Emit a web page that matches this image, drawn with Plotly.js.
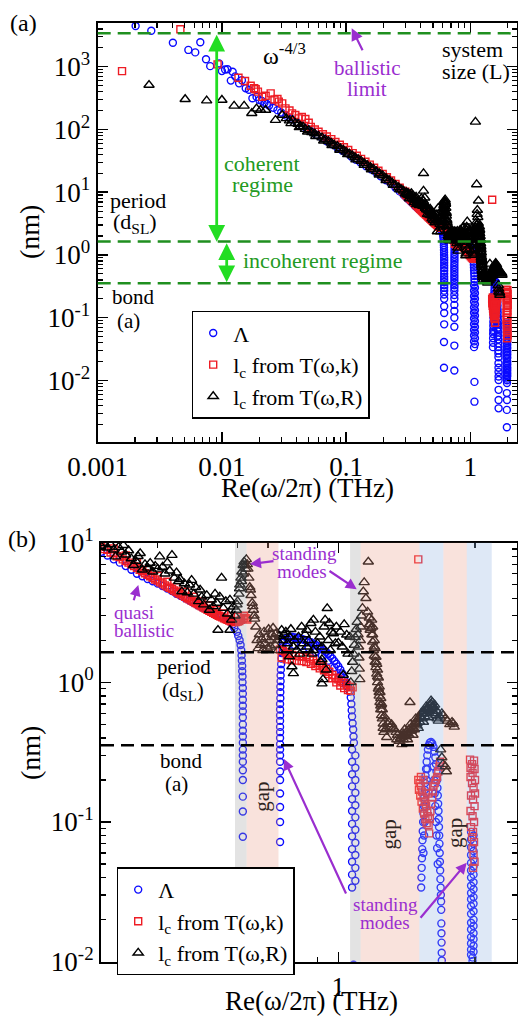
<!DOCTYPE html>
<html><head><meta charset="utf-8">
<script src="https://cdn.plot.ly/plotly-3.0.1.min.js"></script>
<style>html,body{margin:0;padding:0;background:#fff}#plot{width:518px;height:1017px}</style>
</head><body><div id="plot"></div>
<script>
// ---------------- DATA (frequency THz, length nm) ----------------
const lambdaLow = [[0.00202,4450],[0.0027,3740],[0.00403,2410],[0.00537,1850],[0.0061,1690],[0.0067,2450],[0.00745,1310],[0.00805,1020],[0.0095,1130],[0.0100,850],[0.0106,900],[0.0111,910],[0.0118,600],[0.0122,830],[0.0128,700],[0.01375,543],[0.0145,610],[0.01555,453],[0.0165,430],[0.0176,314]];
const lambdaBand = [[0.019,330],[0.020,295],[0.021,285],[0.022,265],[0.023,255],[0.024,240],[0.026,222],[0.028,203],[0.030,186],[0.033,166],[0.036,148],[0.040,131],[0.044,116],[0.048,104],[0.053,92],[0.058,82],[0.064,73],[0.070,65],[0.077,58],[0.085,51],[0.093,46],[0.10,42],[0.11,37],[0.12,33],[0.13,30],[0.145,26],[0.16,23],[0.175,20.5],[0.19,18],[0.21,15.5],[0.23,13.5],[0.25,11.8],[0.27,10.3],[0.29,9.1],[0.30,8.6],[0.31,8.1],[0.32,7.6],[0.33,7.2],[0.34,6.8],[0.35,6.4],[0.36,6.0],[0.37,5.75],[0.38,5.5],[0.39,5.3],[0.40,5.1],[0.41,4.9],[0.42,4.7],[0.43,4.5],[0.44,4.3],[0.45,4.15],[0.46,4.0],[0.47,3.85],[0.48,3.7],[0.49,3.57],[0.50,3.45],[0.51,3.35],[0.52,3.25],[0.53,3.15],[0.54,3.05],[0.55,2.97],[0.56,2.9],[0.57,2.8],[0.575,2.75],[0.58,2.68],[0.585,2.6],[0.59,2.45]];
const lambdaDrop1 = [[0.598,2.3],[0.602,2.15],[0.606,2.0],[0.609,1.85],[0.611,1.7],[0.612,1.56],[0.613,1.43],[0.614,1.31],[0.614,1.2],[0.615,1.1],[0.615,1.0],[0.616,0.91],[0.616,0.83],[0.616,0.75],[0.616,0.68],[0.616,0.62],[0.616,0.56],[0.616,0.5],[0.616,0.45],[0.616,0.41],[0.616,0.37],[0.616,0.33],[0.616,0.3],[0.616,0.27],[0.616,0.235],[0.616,0.2],[0.616,0.152],[0.616,0.119],[0.616,0.0785],[0.614,0.041],[0.614,0.016]];
const lambdaRise2 = [[0.744,0.0144],[0.744,0.036],[0.744,0.072],[0.744,0.1],[0.744,0.128],[0.744,0.16],[0.744,0.2],[0.744,0.23],[0.744,0.27],[0.744,0.3],[0.744,0.33],[0.744,0.36],[0.744,0.4],[0.744,0.44],[0.744,0.48],[0.744,0.53],[0.744,0.58],[0.744,0.64],[0.744,0.7],[0.745,0.77],[0.745,0.85],[0.745,0.93],[0.746,1.02],[0.746,1.12],[0.747,1.23],[0.748,1.35],[0.749,1.48],[0.75,1.62],[0.752,1.78],[0.755,1.92]];
const lambdaArc2 = [[0.76,2.02],[0.77,2.08],[0.78,2.1],[0.79,2.12],[0.80,2.1],[0.81,2.09],[0.82,2.07],[0.83,2.05],[0.84,2.02],[0.85,2.0],[0.86,1.97],[0.87,1.94],[0.88,1.9],[0.89,1.86],[0.90,1.82],[0.91,1.78],[0.92,1.74],[0.93,1.7],[0.94,1.65],[0.95,1.6],[0.96,1.54],[0.97,1.48],[0.98,1.42],[0.99,1.36],[1.00,1.3],[1.01,1.23],[1.02,1.16],[1.03,1.08],[1.04,1.0],[1.05,0.93],[0.77,1.8],[0.80,1.85],[0.83,1.82],[0.86,1.76],[0.89,1.65],[0.92,1.55],[0.95,1.43],[0.98,1.28],[1.01,1.12],[1.04,0.95]];
const lambdaDrop2 = [[1.06,0.86],[1.065,0.78],[1.068,0.7],[1.07,0.63],[1.072,0.57],[1.075,0.51],[1.078,0.46],[1.08,0.41],[1.082,0.37],[1.072,0.33],[1.09,0.3],[1.072,0.27],[1.09,0.245],[1.072,0.22],[1.09,0.2],[1.072,0.18],[1.09,0.162],[1.072,0.146],[1.09,0.132],[1.072,0.12],[1.09,0.108],[1.072,0.097],[1.09,0.088],[1.072,0.079],[1.09,0.071],[1.072,0.064],[1.09,0.058],[1.072,0.052],[1.09,0.047],[1.072,0.042],[1.09,0.038],[1.072,0.034],[1.08,0.0095],[1.08,0.0046]];
const lambdaArc3 = [[1.522,0.034],[1.524,0.04],[1.526,0.047],[1.528,0.055],[1.53,0.064],[1.532,0.074],[1.534,0.086],[1.537,0.1],[1.54,0.115],[1.543,0.13],[1.546,0.15],[1.55,0.17],[1.553,0.19],[1.556,0.215],[1.56,0.24],[1.565,0.27],[1.57,0.3],[1.575,0.33],[1.582,0.355],[1.59,0.37],[1.6,0.375],[1.61,0.365],[1.62,0.345],[1.628,0.32],[1.635,0.29],[1.64,0.26],[1.645,0.23],[1.65,0.2],[1.653,0.175],[1.656,0.155],[1.659,0.135],[1.662,0.12],[1.664,0.105],[1.666,0.092],[1.668,0.08],[1.67,0.07],[1.672,0.06],[1.674,0.052],[1.676,0.045],[1.678,0.039],[1.68,0.034],[1.682,0.03],[1.684,0.027],[1.685,0.0235],[1.686,0.0188],[1.687,0.016],[1.688,0.0137],[1.689,0.0116],[1.69,0.0102],[1.69,0.0071],[1.69,0.0049],[1.69,0.0036],[1.54,0.06],[1.545,0.08],[1.55,0.1],[1.555,0.13],[1.56,0.16],[1.565,0.2],[1.57,0.24],[1.62,0.25],[1.625,0.2],[1.63,0.16],[1.635,0.13],[1.64,0.1],[1.645,0.08],[1.65,0.065],[1.655,0.05]];
const lambdaDrop3 = [[1.96,0.085],[1.985,0.08],[1.96,0.075],[1.985,0.07],[1.96,0.066],[1.985,0.062],[1.96,0.058],[1.985,0.054],[1.96,0.051],[1.985,0.048],[1.96,0.045],[1.985,0.042],[1.96,0.04],[1.985,0.037],[1.96,0.035],[1.985,0.033],[1.96,0.031],[1.985,0.029],[1.96,0.028],[1.985,0.026],[1.96,0.025],[1.985,0.023],[1.96,0.022],[1.985,0.02],[1.96,0.019],[1.985,0.018],[1.96,0.017],[1.985,0.016],[1.96,0.015],[1.985,0.0145],[1.96,0.0135],[1.985,0.013],[1.96,0.0122],[1.985,0.0118],[1.96,0.0112],[1.975,0.0107],[1.975,0.0101],[1.975,0.0091],[1.97,0.0063],[1.975,0.0049],[1.97,0.0034],[1.97,0.0018]];

const lcKLow = [[0.00157,850],[0.00463,3940],[0.00923,1090],[0.0136,668],[0.01535,592],[0.01705,498],[0.0182,453],[0.0187,436],[0.0195,400],[0.0211,331],[0.0225,345],[0.0247,376],[0.0265,300],[0.028,305],[0.0287,277],[0.0306,260],[0.0325,217],[0.035,200],[0.0367,180],[0.039,170],[0.0415,150],[0.044,158],[0.047,147],[0.05,128]];
const lcKBand = [[0.052,110],[0.056,100],[0.06,92],[0.065,84],[0.07,77],[0.076,70],[0.082,63],[0.089,57],[0.096,52],[0.104,47],[0.113,42],[0.122,38],[0.132,34],[0.143,30.5],[0.155,27.5],[0.168,24.5],[0.182,22],[0.197,19.5],[0.213,17.3],[0.23,15.4],[0.25,13.5],[0.27,11.8],[0.285,10.6],[0.295,9.9],[0.30,9.4],[0.305,9.0],[0.31,8.9],[0.315,8.5],[0.32,8.4],[0.325,8.0],[0.33,7.9],[0.335,7.6],[0.34,7.4],[0.345,7.2],[0.35,7.0],[0.355,6.8],[0.36,6.6],[0.365,6.4],[0.37,6.25],[0.375,6.05],[0.38,5.9],[0.385,5.75],[0.39,5.6],[0.395,5.45],[0.40,5.35],[0.405,5.2],[0.41,5.1],[0.415,4.95],[0.42,4.85],[0.425,4.75],[0.43,4.65],[0.435,4.55],[0.44,4.45],[0.445,4.35],[0.45,4.27],[0.455,4.18],[0.46,4.1],[0.465,4.0],[0.47,3.93],[0.475,3.85],[0.48,3.78],[0.485,3.7],[0.49,3.63],[0.495,3.56],[0.50,3.5],[0.505,3.43],[0.51,3.37],[0.515,3.31],[0.52,3.26],[0.525,3.2],[0.53,3.15],[0.535,3.1],[0.54,3.05],[0.545,3.0],[0.55,2.96],[0.555,2.92],[0.56,2.88],[0.565,2.84],[0.57,2.8],[0.575,2.77],[0.58,2.74],[0.585,2.72],[0.59,2.7],[0.595,2.7],[0.60,2.72],[0.605,2.75],[0.61,2.8],[0.615,2.85],[0.62,2.9],[0.625,2.88],[0.63,2.82],[0.30,10.2],[0.32,9.1],[0.34,8.1],[0.36,7.2],[0.38,6.4],[0.40,5.8],[0.42,5.25],[0.44,4.8],[0.46,4.45],[0.48,4.1],[0.50,3.8],[0.52,3.55],[0.54,3.3],[0.56,3.12],[0.58,2.97],[0.60,2.95],[0.62,3.0]];
const lcKArc2 = [[0.744,1.72],[0.755,1.68],[0.765,1.64],[0.775,1.6],[0.79,1.57],[0.805,1.55],[0.82,1.54],[0.835,1.53],[0.85,1.52],[0.865,1.48],[0.88,1.43],[0.895,1.38],[0.91,1.34],[0.925,1.3],[0.94,1.25],[0.955,1.19],[0.97,1.13],[0.985,1.08],[1.0,1.05],[1.015,1.02],[1.03,0.99],[1.045,0.96],[1.06,0.93],[1.075,0.92],[0.75,1.5],[0.77,1.46],[0.79,1.44],[0.81,1.43],[0.83,1.42],[0.85,1.4],[0.87,1.36],[0.89,1.31],[0.91,1.26],[0.93,1.22],[0.95,1.15],[0.97,1.07],[0.99,1.0],[1.01,0.95],[1.03,0.91],[1.05,0.88],[1.065,0.87]];
const lcKArc3 = [[1.50,0.20],[1.505,0.17],[1.51,0.19],[1.515,0.155],[1.52,0.18],[1.525,0.14],[1.53,0.165],[1.535,0.125],[1.54,0.15],[1.545,0.115],[1.55,0.14],[1.555,0.105],[1.56,0.13],[1.565,0.098],[1.57,0.12],[1.575,0.11],[1.58,0.095],[1.585,0.083],[1.59,0.105],[1.595,0.12],[1.60,0.135],[1.61,0.15],[1.615,0.165],[1.62,0.18],[1.63,0.19],[1.64,0.2],[1.65,0.21],[1.66,0.23],[1.67,0.25],[1.675,0.27],[1.52,0.21],[1.54,0.2],[1.56,0.18],[1.58,0.16]];
const lcKDrop3 = [[1.95,0.28],[1.99,0.275],[1.97,0.26],[1.955,0.245],[1.995,0.24],[1.975,0.225],[1.955,0.21],[2.0,0.2],[1.97,0.19],[1.985,0.175],[2.0,0.16],[1.96,0.155],[1.98,0.145],[1.995,0.13],[1.955,0.12],[1.975,0.11],[1.99,0.1],[1.96,0.092],[1.98,0.085],[1.97,0.078],[1.99,0.072],[1.975,0.065],[1.985,0.058],[1.995,0.052],[1.98,0.047]];
const lcKOutlier = [[1.5,7.6]];

const lcRLow = [[0.00259,510],[0.00506,303],[0.00754,288],[0.0100,295],[0.01254,237],[0.0151,237],[0.0174,181],[0.0190,215],[0.0205,204],[0.0225,204],[0.027,141],[0.0306,170]];
const lcRBand = [[0.033,150],[0.035,138],[0.037,140],[0.039,126],[0.041,122],[0.043,113],[0.045,110],[0.047,101],[0.05,97],[0.053,90],[0.056,86],[0.06,79],[0.064,74],[0.068,69],[0.072,65],[0.076,61],[0.08,57],[0.085,54],[0.09,50],[0.095,47],[0.1,44],[0.106,41],[0.112,38.5],[0.118,36],[0.125,33.5],[0.132,31.5],[0.14,29],[0.148,27],[0.157,25],[0.166,23.5],[0.176,21.5],[0.186,20],[0.197,18.5],[0.21,16.8],[0.222,15.5],[0.235,14.2],[0.25,13],[0.265,11.9],[0.28,11],[0.29,10.5],[0.036,125],[0.042,108],[0.049,92],[0.057,78],[0.066,66],[0.077,56],[0.089,47],[0.103,40],[0.12,33],[0.14,27],[0.16,23],[0.185,19],[0.21,15.5],[0.24,13],[0.27,11]];
const lcRQuasi = [[0.300,9.5],[0.305,9.9],[0.31,9.2],[0.315,9.7],[0.32,8.9],[0.323,7.95],[0.328,9.3],[0.333,8.6],[0.336,9.6],[0.34,8.2],[0.345,8.8],[0.35,7.7],[0.354,6.9],[0.358,7.4],[0.362,8.0],[0.366,8.4],[0.37,6.4],[0.375,7.0],[0.38,6.6],[0.385,7.15],[0.39,6.2],[0.395,6.8],[0.40,6.5],[0.404,7.95],[0.41,6.7],[0.415,6.0],[0.42,7.2],[0.425,6.3],[0.43,8.15],[0.435,5.6],[0.44,6.1],[0.445,5.3],[0.448,5.5],[0.452,4.47],[0.458,5.1],[0.465,4.4],[0.47,5.0],[0.475,5.4],[0.48,4.3],[0.485,4.8],[0.492,3.8],[0.496,4.6],[0.50,4.1],[0.505,3.6],[0.513,4.2],[0.52,3.3],[0.525,3.9],[0.53,3.5],[0.535,4.3],[0.54,3.7],[0.543,2.37],[0.548,4.1],[0.553,5.6],[0.558,3.4],[0.565,3.8],[0.57,3.1],[0.577,3.9],[0.577,2.37],[0.582,2.8],[0.587,3.48],[0.42,20],[0.42,10.5]];
const lcRStand1 = [[0.592,3.0],[0.596,3.3],[0.6,3.8],[0.604,4.3],[0.607,5.0],[0.61,5.6],[0.613,6.2],[0.617,6.9],[0.62,7.3],[0.623,6.9],[0.627,7.6],[0.632,6.5],[0.635,5.6],[0.638,4.8],[0.642,4.2],[0.646,3.7],[0.65,3.3],[0.654,2.85],[0.658,2.5],[0.598,3.6],[0.606,4.7],[0.612,5.3],[0.618,6.0],[0.625,6.5],[0.63,7.0],[0.64,4.6],[0.648,3.5],[0.652,3.0]];
const lcRPink1 = [[0.662,2.0],[0.666,1.75],[0.67,2.2],[0.674,1.85],[0.678,2.05],[0.682,1.7],[0.686,2.3],[0.69,1.9],[0.694,2.1],[0.698,1.75],[0.702,2.4],[0.706,2.0],[0.71,1.8],[0.714,2.2],[0.718,2.45],[0.722,2.1],[0.726,1.85],[0.73,2.25],[0.734,2.0],[0.738,1.7],[0.742,2.15]];
const lcRMid2 = [[0.75,2.37],[0.755,2.0],[0.76,2.2],[0.766,2.3],[0.772,1.9],[0.78,2.12],[0.78,1.53],[0.786,2.4],[0.79,1.3],[0.796,1.8],[0.796,1.16],[0.80,2.0],[0.81,1.7],[0.817,2.12],[0.823,1.6],[0.83,2.5],[0.838,1.9],[0.845,2.2],[0.852,2.37],[0.852,1.8],[0.86,2.0],[0.87,2.65],[0.875,1.6],[0.881,2.8],[0.88,1.7],[0.89,2.3],[0.9,1.9],[0.91,2.12],[0.915,1.4],[0.92,1.8],[0.92,1.46],[0.92,0.98],[0.925,1.05],[0.93,2.5],[0.935,2.8],[0.94,1.23],[0.945,3.39],[0.95,2.0],[0.955,2.65],[0.96,1.7],[0.965,2.3],[0.975,2.24],[0.985,1.9],[0.99,2.5],[1.0,1.92],[1.01,2.3],[1.02,1.8],[1.025,1.13],[1.03,2.6],[1.043,2.19],[1.05,1.6],[1.06,2.12]];
const lcRStand2 = [[1.065,1.0],[1.07,1.2],[1.075,1.4],[1.08,1.6],[1.085,1.85],[1.09,2.1],[1.095,2.4],[1.1,2.7],[1.105,2.2],[1.108,1.8],[1.11,1.5],[1.112,1.25],[1.115,1.05],[1.118,2.0],[1.12,2.5],[1.125,3.0],[1.13,3.4],[1.135,4.47],[1.14,5.2],[1.15,4.0],[1.164,7.3],[1.16,3.2],[1.17,2.6],[1.175,2.37],[1.184,2.8],[1.19,2.2],[1.2,2.0],[1.205,1.75],[1.21,1.52],[1.215,1.35],[1.22,1.23],[1.225,1.08],[1.23,0.93],[1.235,0.85],[1.24,0.77],[1.245,0.7],[1.25,0.64],[1.256,0.506],[1.262,0.57],[1.27,0.46],[1.278,0.405],[1.19,2.5],[1.2,1.8],[1.21,1.4],[1.22,1.1],[1.23,0.85],[1.24,0.68],[1.17,2.9],[1.175,2.6],[1.18,2.45],[1.185,2.2],[1.19,1.95],[1.195,1.7],[1.2,1.55],[1.205,1.4],[1.21,1.28],[1.215,1.15],[1.22,1.0],[1.225,0.9],[1.23,0.8],[1.235,0.72],[1.24,0.64],[1.245,0.58],[1.25,0.55],[1.255,0.47],[1.26,0.44],[1.1,132],[1.125,13.3]];
const lcRHigh = [[1.285,0.5],[1.29,0.52],[1.3,0.48],[1.31,0.5],[1.32,0.47],[1.33,0.46],[1.34,0.44],[1.345,0.39],[1.35,0.42],[1.36,0.38],[1.37,0.4],[1.38,0.41],[1.39,0.43],[1.40,0.42],[1.41,0.44],[1.42,0.43],[1.43,0.46],[1.438,0.72],[1.44,0.45],[1.45,0.48],[1.46,0.47],[1.47,0.5],[1.48,0.52],[1.49,0.51],[1.5,0.55],[1.51,0.57],[1.52,0.56],[1.53,0.6],[1.54,0.62],[1.55,0.6],[1.56,0.64],[1.57,0.66],[1.58,0.65],[1.59,0.69],[1.6,0.7],[1.61,0.72],[1.615,0.68],[1.62,0.66],[1.63,0.6],[1.64,0.58],[1.65,0.55],[1.66,0.53],[1.675,0.566],[1.69,0.6],[1.7,0.58],[1.72,0.55],[1.74,0.53],[1.76,0.5],[1.78,0.52],[1.79,0.506],[1.8,0.48],[1.68,0.33],[1.69,0.29],[1.7,0.26],[1.72,0.25],[1.73,0.23],[1.38,0.36],[1.42,0.39],[1.46,0.42],[1.5,0.47],[1.54,0.52],[1.58,0.56],[1.62,0.6],[1.39,0.39],[1.41,0.41],[1.43,0.42],[1.45,0.45],[1.47,0.46],[1.49,0.49],[1.51,0.52],[1.53,0.55],[1.55,0.57],[1.57,0.6],[1.59,0.63],[1.61,0.66],[1.4,0.46],[1.44,0.5],[1.48,0.55],[1.52,0.6],[1.56,0.67],[1.6,0.74],[1.63,0.69],[1.65,0.62]];

// reference lengths (nm) and band edges (THz)
const systemSizeL = 3400, periodDSL = 1.64, bondA = 0.355;
const greyBands = [[0.592,0.628],[1.061,1.12]];
const pinkBands = [[0.628,0.738],[1.12,1.508],[1.703,1.918]];
const blueBands = [[1.508,1.703],[1.918,2.177]];

// ticks
const xTicksA = [0.001,0.01,0.1,1], xTickTextA = ['0.001','0.01','0.1','1'];
const yTicksA = [0.01,0.1,1,10,100,1000];
const yTickTextA = ['10<sup>-2</sup>','10<sup>-1</sup>','10<sup>0</sup>','10<sup>1</sup>','10<sup>2</sup>','10<sup>3</sup>'];
const xTicksB = [1], xTickTextB = ['1'];
const yTicksB = [0.01,0.1,1,10];
const yTickTextB = ['10<sup>-2</sup>','10<sup>-1</sup>','10<sup>0</sup>','10<sup>1</sup>'];

// ---------------- BUILD ----------------
const W = 518, H = 1017;
const SERIF = '"Liberation Serif", "Times New Roman", serif';
const lambdaAll = [].concat(lambdaLow, lambdaBand, lambdaDrop1, lambdaRise2, lambdaArc2, lambdaDrop2, lambdaArc3, lambdaDrop3);
const lcKAll = [].concat(lcKLow, lcKBand, lcKArc2, lcKArc3, lcKDrop3, lcKOutlier);
const lcRAll = [].concat(lcRLow, lcRBand, lcRQuasi, lcRStand1, lcRPink1, lcRMid2, lcRStand2, lcRHigh);

function minorTicks(lo, hi, maxv) {
  const out = [];
  for (let e = lo; e <= hi; e++) for (let m = 2; m <= 9; m++) { const v = m * Math.pow(10, e); if (v <= maxv) out.push(v); }
  return out;
}
const series = [
  {d: lambdaAll, name: 'Λ', sym: 'circle-open', color: '#0a0aff', size: 7},
  {d: lcKAll, name: 'l<sub>c</sub> from T(ω,k)', sym: 'square-open', color: '#ee1c24', size: 7},
  {d: lcRAll, name: 'l<sub>c</sub> from T(ω,R)', sym: 'triangle-up-open', color: '#000000', size: 9}
];
const traces = [];
[['x','y','legend'],['x2','y2','legend2']].forEach(([xa, ya, lg]) => {
  series.forEach(s => traces.push({
    type: 'scatter', mode: 'markers', xaxis: xa, yaxis: ya, legend: lg, name: s.name,
    x: s.d.map(p => p[0]), y: s.d.map(p => p[1]),
    marker: {symbol: s.sym, size: s.size, color: s.color, line: {width: 1.4}},
    hoverinfo: 'skip'
  }));
});

function axisBase(extra) {
  return Object.assign({
    type: 'log', showline: true, linecolor: 'black', linewidth: 2, mirror: 'allticks',
    ticks: 'inside', ticklen: 10, tickwidth: 1.5, tickcolor: 'black', showgrid: false, zeroline: false,
    tickmode: 'array', tickfont: {family: SERIF, size: 27, color: 'black'},
  }, extra);
}
const minorStyle = {ticks: 'inside', ticklen: 5, tickwidth: 1.2, tickcolor: 'black', showgrid: false, tickmode: 'array'};

const shapes = [];
function band(r, color) {
  shapes.push({type: 'rect', xref: 'x2', yref: 'y2 domain', x0: r[0], x1: r[1], y0: 0, y1: 1,
    fillcolor: color, opacity: 0.3, line: {width: 0}, layer: 'above'});
}
greyBands.forEach(r => band(r, '#a3a3a3'));
pinkBands.forEach(r => band(r, '#eb9e8a'));
blueBands.forEach(r => band(r, '#91b2e1'));
function hline(ya, v, color) {
  shapes.push({type: 'line', xref: (ya === 'y' ? 'x' : 'x2') + ' domain', x0: 0, x1: 1, yref: ya, y0: v, y1: v,
    line: {color: color, width: 2.5, dash: '13px,7px'}, layer: 'above'});
}
const GREENLINE = '#1f8f1f';
hline('y', systemSizeL, GREENLINE); hline('y', periodDSL, GREENLINE); hline('y', bondA, GREENLINE);
hline('y2', periodDSL, 'black'); hline('y2', bondA, 'black');

const PURPLE = '#9a2ecf', GREENTXT = '#239a23', GREENARROW = '#22dd22';
function txt(text, x, y, size, color, extra) {
  return Object.assign({text: text, xref: 'paper', yref: 'paper', x: x / W, y: 1 - y / H,
    xanchor: 'center', yanchor: 'middle', showarrow: false,
    font: {family: SERIF, size: size, color: color}}, extra || {});
}
function arrow(hx, hy, tx, ty, color, width, extra) {
  return Object.assign({text: '', xref: 'paper', yref: 'paper', x: hx / W, y: 1 - hy / H,
    ax: tx - hx, ay: ty - hy, axref: 'pixel', ayref: 'pixel', showarrow: true,
    arrowhead: 2, arrowsize: 1, arrowwidth: width, arrowcolor: color, standoff: 0, startstandoff: 0}, extra || {});
}
const annotations = [
  // panel (a)
  txt('(a)', 23, 23, 24, 'black'),
  txt('ω<sup>-4/3</sup>', 284, 54, 24, 'black'),
  txt('ballistic', 367, 68, 21, PURPLE), txt('limit', 367, 89, 21, PURPLE),
  arrow(351.7, 28.3, 363.3, 51.7, PURPLE, 2.2, {arrowsize: 1.1}),
  txt('system', 440, 50, 22, 'black', {xanchor: 'left'}), txt('size (L)', 440, 71, 22, 'black', {xanchor: 'left'}),
  txt('coherent', 262, 163, 22, GREENTXT), txt('regime', 262, 185, 22, GREENTXT),
  txt('incoherent regime', 241, 261, 22, GREENTXT, {xanchor: 'left'}),
  txt('period', 137.5, 200, 22, 'black'), txt('(d<sub>SL</sub>)', 135, 223, 22, 'black'),
  txt('bond', 133, 297, 21, 'black'), txt('(a)', 128, 321, 21, 'black'),
  arrow(216.7, 241.7, 216.7, 33.3, GREENARROW, 2.8, {arrowside: 'end+start', arrowsize: 1.2}),
  arrow(226.7, 282.3, 226.7, 241.7, GREENARROW, 2.8, {arrowside: 'end+start', arrowsize: 1.2}),
  txt('(nm)', 30, 232, 28, 'black', {textangle: -90}),
  txt('Re(ω/2π) (THz)', 307.5, 488, 27, 'black'),
  // panel (b)
  txt('(b)', 22, 539, 24, 'black'),
  txt('standing', 304.5, 553, 19, PURPLE), txt('modes', 301.5, 571, 19, PURPLE),
  arrow(250, 564, 275, 561, PURPLE, 2.2),
  arrow(356.7, 589.3, 328, 570, PURPLE, 2.2),
  txt('quasi', 112, 612, 19, PURPLE, {xanchor: 'left'}), txt('ballistic', 112, 630, 19, PURPLE, {xanchor: 'left'}),
  arrow(138.3, 585, 133.3, 601.7, PURPLE, 2.2),
  txt('period', 183.5, 667, 21, 'black'), txt('(d<sub>SL</sub>)', 183, 691, 21, 'black'),
  txt('bond', 181, 761, 21, 'black'), txt('(a)', 176, 784, 21, 'black'),
  txt('gap', 261.7, 797, 21, '#2e2420', {textangle: -90}),
  txt('gap', 388.5, 835, 21, '#2e2420', {textangle: -90}),
  txt('gap', 455, 833, 21, '#2e2420', {textangle: -90}),
  txt('standing', 385.5, 904, 19, PURPLE), txt('modes', 385, 922, 19, PURPLE),
  arrow(284, 759, 346.7, 895, PURPLE, 2.2),
  arrow(466.7, 862.7, 419.3, 919.3, PURPLE, 2.2),
  txt('(nm)', 30, 753, 28, 'black', {textangle: -90}),
  txt('Re(ω/2π) (THz)', 311.7, 1001, 27, 'black')
];

const legendBase = {xanchor: 'left', yanchor: 'top', bgcolor: 'white', bordercolor: 'black', borderwidth: 1.5,
  font: {family: SERIF, size: 22, color: 'black'}, itemwidth: 30, tracegroupgap: 0, traceorder: 'normal'};

const layout = {
  width: W, height: H, margin: {l: 0, r: 0, t: 0, b: 0},
  paper_bgcolor: 'white', plot_bgcolor: 'white',
  font: {family: SERIF, color: 'black'},
  showlegend: true,
  xaxis: axisBase({domain: [97.7 / W, 517 / W], range: [-3, 0.376], anchor: 'y',
    tickvals: xTicksA, ticktext: xTickTextA,
    minor: Object.assign({tickvals: minorTicks(-3, 0, 2.38)}, minorStyle)}),
  yaxis: axisBase({domain: [1 - 442 / H, 1 - 23 / H], range: [-2.98, 3.696], anchor: 'x',
    tickvals: yTicksA, ticktext: yTickTextA,
    minor: Object.assign({tickvals: minorTicks(-3, 3, 4970)}, minorStyle)}),
  xaxis2: axisBase({domain: [101 / W, 517 / W], range: [Math.log10(0.3), 0.3935], anchor: 'y2',
    tickvals: xTicksB, ticktext: xTickTextB,
    minor: Object.assign({tickvals: minorTicks(-1, 0, 2.47).filter(v => v > 0.3)}, minorStyle)}),
  yaxis2: axisBase({domain: [1 - 961.7 / H, 1 - 542.7 / H], range: [-2, 1], anchor: 'x2',
    tickvals: yTicksB, ticktext: yTickTextB,
    minor: Object.assign({tickvals: minorTicks(-2, 0, 10)}, minorStyle)}),
  legend: Object.assign({x: 191.7 / W, y: 1 - 310.7 / H}, legendBase),
  legend2: Object.assign({x: 116.7 / W, y: 1 - 867.3 / H}, legendBase),
  shapes: shapes,
  annotations: annotations
};

Plotly.newPlot('plot', traces, layout, {displayModeBar: false, staticPlot: true});
</script></body></html>
